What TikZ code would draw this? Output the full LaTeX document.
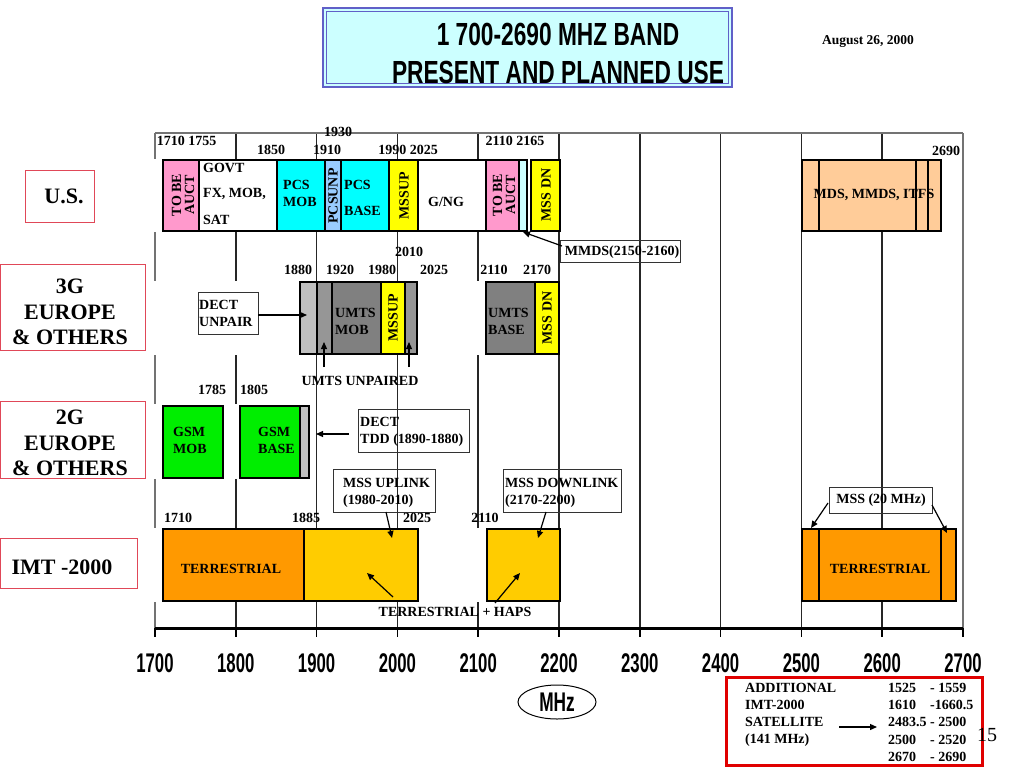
\documentclass[tikz,border=0pt]{standalone}
\usepackage{fontspec}
\setmainfont{Liberation Serif}
\newfontfamily\hsans{Liberation Sans}
\usepackage{graphicx}
\usetikzlibrary{shapes.geometric,arrows.meta}
\definecolor{tobe}{HTML}{FF99CC}
\definecolor{pcs}{HTML}{00FFFF}
\definecolor{pcsunp}{HTML}{99CCFF}
\definecolor{yel}{HTML}{FFFF00}
\definecolor{lcyan}{HTML}{CCFFFF}
\definecolor{peach}{HTML}{FFCC99}
\definecolor{gA}{HTML}{C0C0C0}
\definecolor{gB}{HTML}{969696}
\definecolor{gC}{HTML}{808080}
\definecolor{gsm}{HTML}{00EE00}
\definecolor{orng}{HTML}{FF9900}
\definecolor{gold}{HTML}{FFCC00}
\definecolor{titleblue}{HTML}{6060C8}
\definecolor{rowred}{HTML}{E04858}
\definecolor{boxred}{HTML}{E00000}
\begin{document}
\begin{tikzpicture}[x=1pt,y=-1pt,
  lbl/.style={font=\bfseries\fontsize{14}{17}\selectfont, inner sep=0pt},
  lbll/.style={lbl, align=left, anchor=west},
  rot/.style={lbl, rotate=90, align=center, font=\bfseries\fontsize{14}{13}\selectfont},
  rowl/.style={font=\bfseries\fontsize{22}{25.5}\selectfont, align=center, inner sep=0pt},
  rowbox/.style={draw=rowred, line width=0.8pt},
  band/.style={draw=black, line width=1.2pt},
  gridl/.style={draw=black!85, line width=1.5pt},
  framel/.style={draw=black!55, line width=1.5pt},
  tag/.style={draw=black!80, line width=0.8pt},
  arr/.style={-{Triangle[length=7pt,width=6pt]}, line width=1.2pt},
  axl/.style={font=\hsans\bfseries\fontsize{27}{27}\selectfont, inner sep=0pt}]

\useasboundingbox (0,0) rectangle (1024,768);
\fill[white] (0,0) rectangle (1024,768);

% ---------- title ----------
\filldraw[fill=lcyan, draw=titleblue, line width=1.5pt] (323,8) rectangle (732,87);
\draw[titleblue, line width=1pt] (326.5,11.5) rectangle (728.5,83.5);
\node[font=\hsans\bfseries\fontsize{32}{32}\selectfont, inner sep=0pt] (t1) at (558,34) {\scalebox{0.71}[1]{1 700-2690 MHZ BAND}};
\node[font=\hsans\bfseries\fontsize{32}{32}\selectfont, inner sep=0pt] (t2) at (558,72) {\scalebox{0.71}[1]{PRESENT AND PLANNED USE}};
\node[font=\bfseries\fontsize{13.5}{14}\selectfont, inner sep=0pt] (date) at (868,42) {August 26, 2000};

% ---------- grid ----------
\foreach \k in {1,...,9} {\draw[gridl] ({155+80.8*\k},133) -- ({155+80.8*\k},628);}
\draw[framel] (155,133) -- (963,133);
\draw[framel] (155,133) -- (155,628);
\draw[framel] (963,133) -- (963,628);
\foreach \k in {0,...,10} {\draw[black, line width=1.5pt] ({155+80.8*\k},628) -- ({155+80.8*\k},637);}
\draw[black, line width=3pt] (155,628) -- (963,628);
\foreach \k/\t in {0/1700,1/1800,2/1900,3/2000,4/2100,5/2200,6/2300,7/2400,8/2500,9/2600,10/2700}
  {\node[axl] (ax\t) at ({155+80.8*\k},663) {\scalebox{0.62}[1]{\t}};}
\node[draw, ellipse, line width=1pt, minimum width=78pt, minimum height=34pt, inner sep=0pt,
  font=\hsans\bfseries\fontsize{27}{27}\selectfont] (mhz) at (557,702) {\scalebox{0.64}[1]{MHz}};

% ---------- white row backgrounds ----------
\fill[white] (149,159) rectangle (560,232);
\fill[white] (149,281) rectangle (486,355);
\fill[white] (149,404) rectangle (311,479);
\fill[white] (149,528) rectangle (560,602);

% ---------- row labels ----------
\draw[rowbox] (25,170) rectangle (94,222);
\node[rowl] (rus) at (64,196) {U.S.};
\draw[rowbox] (0.5,264) rectangle (145,350);
\node[rowl] (r3g) at (70,312) {3G\\EUROPE\\\& OTHERS};
\draw[rowbox] (0.5,401) rectangle (145,478);
\node[rowl] (r2g) at (70,443) {2G\\EUROPE\\\& OTHERS};
\draw[rowbox] (0.5,538) rectangle (137,588);
\node[rowl] (rimt) at (62,567) {IMT -2000};

% ---------- U.S. row ----------
\filldraw[band, fill=tobe] (163,160) rectangle (199,231);
\filldraw[band, fill=white] (199,160) rectangle (277,231);
\filldraw[band, fill=pcs] (277,160) rectangle (325,231);
\filldraw[band, fill=pcsunp] (325,160) rectangle (341,231);
\filldraw[band, fill=pcs] (341,160) rectangle (389,231);
\filldraw[band, fill=yel] (389,160) rectangle (418,231);
\filldraw[band, fill=white] (418,160) rectangle (486,231);
\filldraw[band, fill=tobe] (486,160) rectangle (519,231);
\filldraw[band, fill=lcyan] (519,160) rectangle (527,231);
\filldraw[band, fill=yel] (531,160) rectangle (560,231);
\filldraw[band, fill=peach] (802,160) rectangle (941,231);
\draw[band] (819,160) -- (819,231);
\draw[band] (916,160) -- (916,231);
\draw[band] (928,160) -- (928,231);

\node[rot] (us1) at (183,195) {TO BE\\AUCT};
\node[lbll] (us2a) at (203,168) {GOVT};
\node[lbll] (us2b) at (203,194) {FX, MOB,};
\node[lbll] (us2c) at (203,220) {SAT};
\node[lbll] (us3) at (283,193.5) {PCS\\MOB};
\node[rot] (us4) at (333,196) {PCSUNP};
\node[lbll] (us5a) at (344,185) {PCS};
\node[lbll] (us5b) at (344,211) {BASE};
\node[rot] (us6) at (404,196) {MSSUP};
\node[lbl] (us7) at (446,202) {G/NG};
\node[rot] (us8) at (504,195) {TO BE\\AUCT};
\node[rot] (us9) at (546,195) {MSS DN};
\node[lbl] (us10) at (874,195) {MDS, MMDS, ITFS};

\node[lbl] (f1) at (186.5,141) {1710 1755};
\node[lbl] (f2) at (271,150) {1850};
\node[lbl] (f3) at (327,150) {1910};
\node[lbl] (f4) at (338,132) {1930};
\node[lbl] (f5) at (408,150) {1990 2025};
\node[lbl] (f6) at (515,141) {2110 2165};
\node[lbl] (f7) at (946,151) {2690};

\node[tag, minimum width=120pt, minimum height=22pt, inner sep=0pt] (mmds) at (620.5,251) {};
\node[lbl] (mmdst) at (622,252) {MMDS(2150-2160)};
\coordinate (mmdsS) at (562,246);
\coordinate (mmdsT) at (523,232);
\draw[arr] (mmdsS) -- (mmdsT);

% ---------- 3G row ----------
\filldraw[band, fill=gA] (300,282) rectangle (317,354);
\filldraw[band, fill=gB] (317,282) rectangle (332,354);
\filldraw[band, fill=gC] (332,282) rectangle (381,354);
\filldraw[band, fill=yel] (381,282) rectangle (405,354);
\filldraw[band, fill=gB] (405,282) rectangle (417,354);
\filldraw[band, fill=gC] (486,282) rectangle (535,354);
\filldraw[band, fill=yel] (535,282) rectangle (559,354);

\node[lbl] (g1) at (409,252) {2010};
\node[lbl] (g2) at (298,270) {1880};
\node[lbl] (g3) at (340,270) {1920};
\node[lbl] (g4) at (382,270) {1980};
\node[lbl] (g5) at (434,270) {2025};
\node[lbl] (g6) at (494,270) {2110};
\node[lbl] (g7) at (537,270) {2170};

\node[tag, fill=white, minimum width=60pt, minimum height=42pt, inner sep=0pt] (dectu) at (228,313) {};
\node[lbll] (dectut) at (199,313) {DECT\\UNPAIR};
\coordinate (dectuT) at (307,315);
\draw[arr] (dectu.east |- dectuT) -- (dectuT);

\node[lbll] (umtsm) at (335,321.5) {UMTS\\MOB};
\node[rot] (mssup3) at (393,318) {MSSUP};
\node[lbll] (umtsb) at (488,321.5) {UMTS\\BASE};
\node[rot] (mssdn3) at (547,318) {MSS DN};

\node[lbl] (uu) at (360,381) {UMTS UNPAIRED};
\coordinate (uu1S) at (324,367);
\coordinate (uu1T) at (324,342);
\coordinate (uu2S) at (409,367);
\coordinate (uu2T) at (409,342);
\draw[arr] (uu1S) -- (uu1T);
\draw[arr] (uu2S) -- (uu2T);

% ---------- 2G row ----------
\filldraw[band, fill=gsm] (163,406) rectangle (223,478);
\filldraw[band, fill=gsm] (240,406) rectangle (300,478);
\filldraw[band, fill=gA] (300,406) rectangle (309,478);
\node[lbll] (gsmm) at (173,440.5) {GSM\\MOB};
\node[lbll] (gsmb) at (258,440.5) {GSM\\BASE};
\node[lbl] (h1) at (212,390) {1785};
\node[lbl] (h2) at (254,390) {1805};

\node[tag, minimum width=111pt, minimum height=43pt, inner sep=0pt] (dectt) at (413.5,430.5) {};
\node[lbll] (dectTt) at (360,431.5) {DECT\\TDD (1890-1880)};
\coordinate (dtS) at (349,434);
\coordinate (dtT) at (316,434);
\draw[arr] (dtS) -- (dtT);

\node[tag, minimum width=102pt, minimum height=43pt, inner sep=0pt] (mssu) at (384,490.5) {};
\node[lbll] (mssut) at (343,492.5) {MSS UPLINK\\(1980-2010)};
\node[tag, minimum width=118pt, minimum height=43pt, inner sep=0pt] (mssd) at (562,490.5) {};
\node[lbll] (mssdt) at (505,492.5) {MSS DOWNLINK\\(2170-2200)};

% ---------- IMT-2000 row ----------
\filldraw[band, fill=orng] (163,529) rectangle (304,601);
\filldraw[band, fill=gold] (304,529) rectangle (418,601);
\filldraw[band, fill=gold] (487,529) rectangle (560,601);
\filldraw[band, fill=orng] (802,529) rectangle (956,601);
\draw[band] (819,529) -- (819,601);
\draw[band] (941,529) -- (941,601);

\node[lbl] (i1) at (178,518) {1710};
\node[lbl] (i2) at (306,518) {1885};
\node[lbl] (i3) at (417,518) {2025};
\node[lbl] (i4) at (485,518) {2110};
\node[lbl] (terr1) at (231,569) {TERRESTRIAL};
\node[lbl] (terr2) at (880,569) {TERRESTRIAL};
\node[lbl] (haps) at (455,612) {TERRESTRIAL + HAPS};

\coordinate (muS) at (386,512);
\coordinate (muT) at (392,538);
\draw[arr] (muS) -- (muT);
\coordinate (mdS) at (546,512);
\coordinate (mdT) at (538,538);
\draw[arr] (mdS) -- (mdT);
\coordinate (hp1S) at (393,597);
\coordinate (hp1T) at (367,573);
\draw[arr] (hp1S) -- (hp1T);
\coordinate (hp2S) at (495,603);
\coordinate (hp2T) at (520,573);
\draw[arr] (hp2S) -- (hp2T);

\node[tag, minimum width=103pt, minimum height=26pt, inner sep=0pt] (mss20) at (880.5,500) {};
\node[lbl] (mss20t) at (881,500) {MSS (20 MHz)};
\coordinate (m20aS) at (828,503);
\coordinate (m20aT) at (811,528);
\draw[arr] (m20aS) -- (m20aT);
\coordinate (m20bS) at (932,505);
\coordinate (m20bT) at (947,533);
\draw[arr] (m20bS) -- (m20bT);

% ---------- additional satellite box ----------
\draw[boxred, line width=3pt] (726,677.5) rectangle (982,765.5);
\node[lbll] (a1) at (745,688) {ADDITIONAL};
\node[lbll] (a2) at (745,705) {IMT-2000};
\node[lbll] (a3) at (745,722) {SATELLITE};
\node[lbll] (a4) at (745,740) {(141 MHz)};
\node[lbll] (b1) at (888,688) {1525};
\node[lbll] (b2) at (888,705) {1610};
\node[lbll] (b3) at (888,722) {2483.5};
\node[lbll] (b4) at (888,740) {2500};
\node[lbll] (b5) at (888,757) {2670};
\node[lbll] (c1) at (930,688) {- 1559};
\node[lbll] (c2) at (930,705) {-1660.5};
\node[lbll] (c3) at (930,722) {- 2500};
\node[lbll] (c4) at (930,740) {- 2520};
\node[lbll] (c5) at (930,757) {- 2690};
\coordinate (adS) at (839,727);
\coordinate (adT) at (877,727);
\draw[arr] (adS) -- (adT);
\node[font=\fontsize{20}{20}\selectfont, inner sep=0pt] (pg) at (987,735) {15};
\end{tikzpicture}
\end{document}
